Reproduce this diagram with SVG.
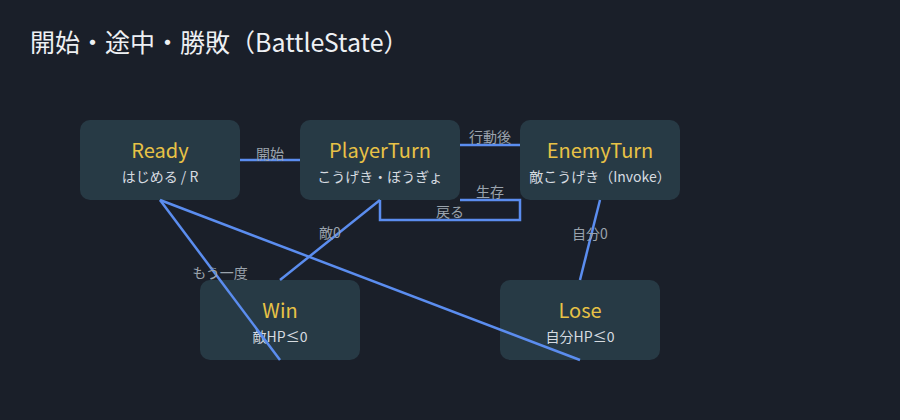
<svg xmlns="http://www.w3.org/2000/svg" width="900" height="420" viewBox="0 0 900 420">
<style>
text{font-family:"Noto Sans CJK JP","Noto Sans",sans-serif}
.box{fill:#273a45}
.t{fill:#e8c246;font-size:20px;text-anchor:middle}
.s{fill:#d6dbe0;font-size:14px;text-anchor:middle}
.l{fill:#9aa3ad;font-size:14px;text-anchor:middle}
.c{stroke:#5b8def;stroke-width:2.5;fill:none}
</style>
<rect width="900" height="420" fill="#1a1f29"/>
<text x="30" y="52" fill="#eef0f3" font-size="25">開始・途中・勝敗（BattleState）</text>
<g id="ready"><rect class="box" x="80" y="120" width="160" height="80" rx="10"/><text class="t" x="160" y="158">Ready</text><text class="s" x="160" y="182">はじめる / R</text></g>
<g id="player"><rect class="box" x="300" y="120" width="160" height="80" rx="10"/><text class="t" x="380" y="158">PlayerTurn</text><text class="s" x="380" y="182">こうげき・ぼうぎょ</text></g>
<g id="enemy"><rect class="box" x="520" y="120" width="160" height="80" rx="10"/><text class="t" x="600" y="158">EnemyTurn</text><text class="s" x="600" y="182">敵こうげき（Invoke）</text></g>
<g id="win"><rect class="box" x="200" y="280" width="160" height="80" rx="10"/><text class="t" x="280" y="318">Win</text><text class="s" x="280" y="342">敵HP≤0</text></g>
<g id="lose"><rect class="box" x="500" y="280" width="160" height="80" rx="10"/><text class="t" x="580" y="318">Lose</text><text class="s" x="580" y="342">自分HP≤0</text></g>
<g id="connectors">
<path class="c" d="M240 160H300"/>
<path class="c" d="M460 145H520"/>
<path class="c" d="M460 200H520V220H380V200"/>
<path class="c" d="M380 200L280 280"/>
<path class="c" d="M600 200L580 280"/>
<path class="c" d="M160 200L280 360"/>
<path class="c" d="M160 200L580 360"/>
<text class="l" x="270" y="159">開始</text>
<text class="l" x="490" y="142">行動後</text>
<text class="l" x="490" y="197">生存</text>
<text class="l" x="450" y="217">戻る</text>
<text class="l" x="330" y="238">敵0</text>
<text class="l" x="590" y="239">自分0</text>
<text class="l" x="220" y="278">もう一度</text>
</g>
</svg>
